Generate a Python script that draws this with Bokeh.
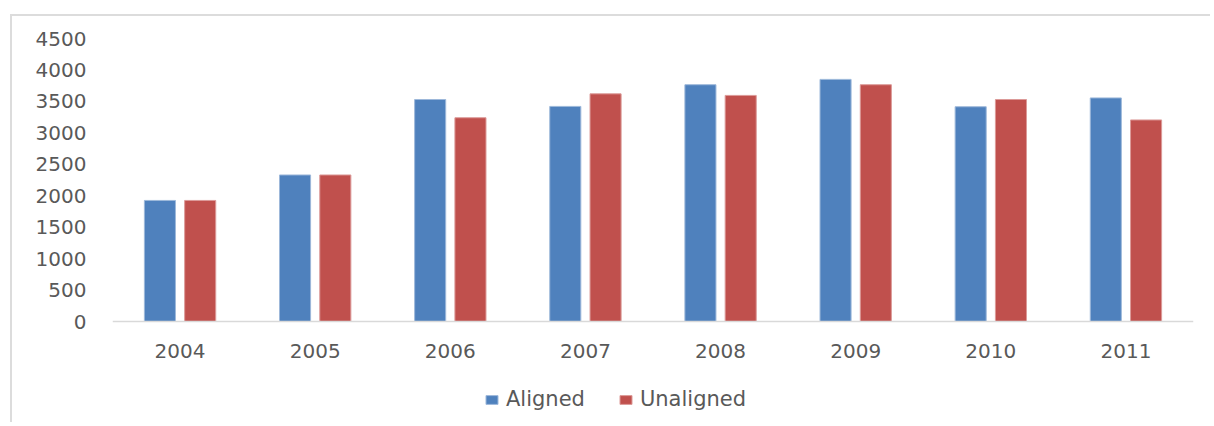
from bokeh.plotting import figure
from bokeh.models import ColumnDataSource, FactorRange, Legend, LegendItem, Range1d, FixedTicker
from bokeh.transform import dodge
from bokeh.embed import file_html
from bokeh.resources import INLINE

years = ["2004", "2005", "2006", "2007", "2008", "2009", "2010", "2011"]
aligned = [1925, 2330, 3530, 3420, 3765, 3850, 3415, 3555]
unaligned = [1925, 2330, 3240, 3620, 3595, 3765, 3530, 3205]
y_ticks = [0, 500, 1000, 1500, 2000, 2500, 3000, 3500, 4000, 4500]

src = ColumnDataSource(dict(year=years, aligned=aligned, unaligned=unaligned))

FONT = "DejaVu Sans"
GRAY = "#595959"

# layout: value axis 0..4500 spans 283 px; frame extends further down
# so that the legend can sit inside the frame below the category labels
W, H = 1200, 408
TOP, LEFT, RIGHT = 22, 100, 19
AXIS_PX = 283
EXTRA_PX = H - TOP - AXIS_PX
y_max = 4500
y_min = -y_max * EXTRA_PX / AXIS_PX

p = figure(width=W, height=H, output_backend="svg", toolbar_location=None,
           x_range=FactorRange(factors=years, range_padding=0),
           y_range=Range1d(y_min, y_max),
           min_border_left=LEFT, min_border_right=RIGHT, min_border_top=TOP, min_border_bottom=0)
p.styles = {"margin-left": "10px", "margin-top": "14px",
            "border-left": "2px solid #dcdcdc", "border-top": "2px solid #dcdcdc"}

r1 = p.vbar(x=dodge("year", -0.149, range=p.x_range), top="aligned", width=0.23, bottom=0,
            source=src, fill_color="#4F81BD", line_color="#9db8da", line_width=1)
r2 = p.vbar(x=dodge("year", 0.149, range=p.x_range), top="unaligned", width=0.23, bottom=0,
            source=src, fill_color="#C0504D", line_color="#dc9a98", line_width=1)

p.outline_line_color = None
p.xgrid.grid_line_color = None
p.ygrid.grid_line_color = None
p.background_fill_color = "white"
p.border_fill_color = "white"

p.yaxis.ticker = FixedTicker(ticks=y_ticks)
p.yaxis.axis_line_color = None
p.yaxis.major_tick_line_color = None
p.yaxis.minor_tick_line_color = None
p.yaxis.major_tick_out = 0
p.yaxis.major_tick_in = 0
p.yaxis.major_label_standoff = 26
p.yaxis.major_label_text_font = FONT
p.yaxis.major_label_text_font_size = "20px"
p.yaxis.major_label_text_color = GRAY

p.xaxis.fixed_location = 0
p.xaxis.axis_line_color = "#d9d9d9"
p.xaxis.axis_line_width = 1.5
p.xaxis.major_tick_line_color = None
p.xaxis.minor_tick_line_color = None
p.xaxis.major_tick_out = 0
p.xaxis.major_tick_in = 0
p.xaxis.major_label_standoff = 22
p.xaxis.major_label_text_font = FONT
p.xaxis.major_label_text_font_size = "20px"
p.xaxis.major_label_text_color = GRAY

legend = Legend(items=[LegendItem(label="Aligned", renderers=[r1]),
                       LegendItem(label="Unaligned", renderers=[r2])],
                orientation="horizontal", location=(372, 13),
                label_text_font=FONT, label_text_font_size="21px", label_text_color=GRAY,
                glyph_width=15, glyph_height=11, label_standoff=7, spacing=33,
                border_line_color=None, background_fill_alpha=0, margin=0, padding=4)
p.add_layout(legend, "center")

open("out.html", "w").write(file_html(p, INLINE))
